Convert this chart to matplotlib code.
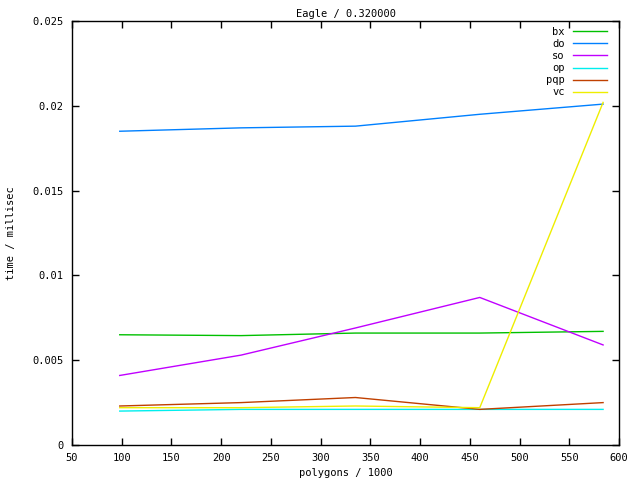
import matplotlib
matplotlib.use("Agg")
import matplotlib.pyplot as plt

polygons = [98, 220, 335, 460, 584]
bx = [0.0065, 0.00645, 0.0066, 0.0066, 0.0067]
do = [0.0185, 0.0187, 0.0188, 0.0195, 0.0201]
so = [0.0041, 0.0053, 0.0069, 0.0087, 0.0059]
op = [0.0020, 0.0021, 0.0021, 0.0021, 0.0021]
pqp = [0.0023, 0.0025, 0.0028, 0.0021, 0.0025]
vc = [0.0022, 0.0022, 0.0023, 0.0022, 0.0202]

series = [("bx", bx, "#00c000"), ("do", do, "#0080ff"), ("so", so, "#c000ff"),
          ("op", op, "#00eeee"), ("pqp", pqp, "#c04000"), ("vc", vc, "#eeee00")]

xticks = list(range(50, 601, 50))
yticks = [0, 0.005, 0.01, 0.015, 0.02, 0.025]
ylabels = ["0", "0.005", "0.01", "0.015", "0.02", "0.025"]

plt.rcParams['font.family'] = 'DejaVu Sans Mono'
plt.rcParams['font.size'] = 7.5

fig = plt.figure(figsize=(6.4, 4.8), dpi=100)
ax = fig.add_axes([72/640, 35/480, 547/640, 424/480])

for name, vals, col in series:
    ax.plot(polygons, vals, color=col, lw=1, label=name)

ax.set_xlim(50, 600)
ax.set_ylim(0, 0.025)
ax.set_xticks(xticks)
ax.set_xticklabels([str(t) for t in xticks])
ax.set_yticks(yticks)
ax.set_yticklabels(ylabels)
ax.tick_params(direction='in', top=True, right=True, length=5, width=1, pad=6)
for s in ax.spines.values():
    s.set_linewidth(1)

ax.set_title("Eagle / 0.320000", fontsize=7.5, pad=3)
ax.set_xlabel("polygons / 1000", labelpad=3)
ax.set_ylabel("time / millisec", labelpad=12)

leg = ax.legend(loc='upper right', bbox_to_anchor=(0.978, 0.986), frameon=False,
                markerfirst=False, handlelength=3.3, labelspacing=0.2,
                borderaxespad=0, borderpad=0, handletextpad=0.77)
for t in leg.get_texts():
    t.set_ha('right')

fig.savefig("out.png", dpi=100)
